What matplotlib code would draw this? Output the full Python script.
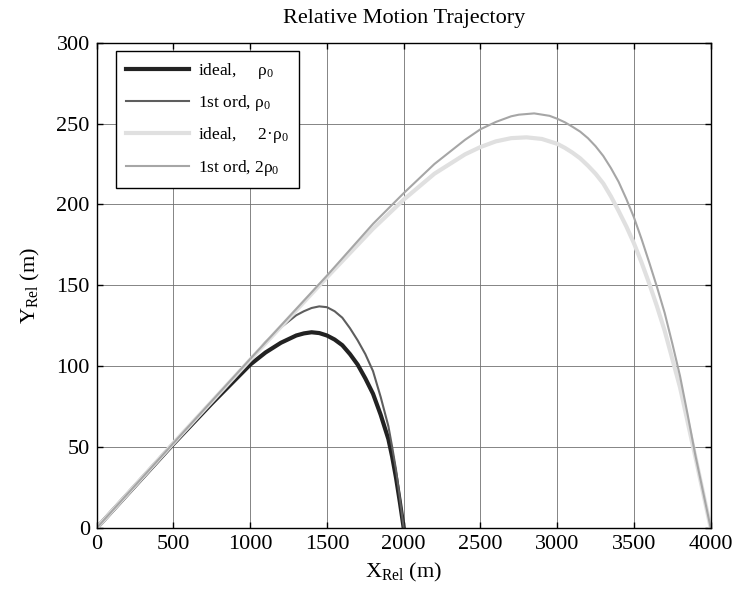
import matplotlib
matplotlib.use("Agg")
import matplotlib.pyplot as plt

plt.rcParams['font.family'] = ['Liberation Serif', 'DejaVu Serif']
plt.rcParams['mathtext.fontset'] = 'custom'
plt.rcParams['mathtext.rm'] = 'Liberation Serif'
plt.rcParams['mathtext.it'] = 'Liberation Serif:italic'

title = "Relative Motion Trajectory"
x_ticks = [0, 500, 1000, 1500, 2000, 2500, 3000, 3500, 4000]
y_ticks = [0, 50, 100, 150, 200, 250, 300]

labels = ['ideal,     ρ$_\\mathregular{0}$', '1st ord, ρ$_\\mathregular{0}$',
          'ideal,     2·ρ$_\\mathregular{0}$', '1st ord, 2ρ$_\\mathregular{0}$']

ideal_r0_x = [0, 250, 500, 750, 1000, 1100, 1200, 1300, 1350, 1400, 1450, 1500, 1550, 1600,
              1650, 1700, 1750, 1800, 1850, 1900, 1925, 1950, 1975, 2000]
ideal_r0_y = [0, 26, 52, 77, 101, 108.5, 114.5, 119, 120.3, 121, 120.5, 119, 116.5, 113,
              107.5, 101, 92.5, 83, 70, 55, 44, 31, 16, 0]

first_r0_x = [0, 250, 500, 750, 1000, 1100, 1200, 1300, 1350, 1400, 1450, 1500, 1550, 1600,
              1650, 1700, 1750, 1800, 1850, 1900, 1925, 1950, 1975, 2000]
first_r0_y = [0, 26, 52, 78, 103.5, 115, 124, 131.5, 134, 136, 137, 136.5, 134, 130,
              123.5, 116, 107.5, 97, 81, 63, 50, 36, 18.5, 0]

ideal_2r0_x = [0, 500, 1000, 1500, 1800, 2000, 2200, 2400, 2500, 2600, 2700, 2800, 2900, 3000,
               3050, 3100, 3150, 3200, 3250, 3300, 3350, 3400, 3450, 3500, 3550, 3600, 3650,
               3700, 3800, 3900, 4000]
ideal_2r0_y = [0, 52.5, 104, 155, 185, 203, 219, 231, 235.5, 239, 241, 241.5, 240.5, 237.5,
               235, 232, 228.5, 224, 219, 213, 205, 196, 186.5, 176, 164, 151, 137,
               122, 87, 44, 0]

first_2r0_x = [0, 500, 1000, 1500, 1800, 2000, 2200, 2400, 2500, 2600, 2700, 2750, 2850, 2950,
               3000, 3050, 3100, 3150, 3200, 3250, 3300, 3350, 3400, 3450, 3500, 3550, 3600,
               3650, 3700, 3750, 3800, 3850, 3900, 4000]
first_2r0_y = [0, 52.5, 104.5, 156, 188, 207, 225, 240, 246.5, 251, 254.5, 255.5, 256.3, 254.8,
               253, 250.8, 248, 245, 241, 236, 230, 222.5, 214, 203.5, 192, 178.5, 164,
               149, 133, 114, 94, 70, 45, 0]

fig = plt.figure(figsize=(7.41, 5.99), dpi=100)
ax = fig.add_axes([96.7/741, 1 - 528/599, 614/741, 485.3/599])

ax.plot(ideal_r0_x, ideal_r0_y, color='#222222', lw=3.0, label=labels[0])
ax.plot(first_r0_x, first_r0_y, color='#5e5e5e', lw=1.5, label=labels[1])
ax.plot(ideal_2r0_x, ideal_2r0_y, color='#e0e0e0', lw=3.0, label=labels[2])
ax.plot(first_2r0_x, first_2r0_y, color='#a6a6a6', lw=1.5, label=labels[3])

ax.set_xlim(0, 4000)
ax.set_ylim(0, 300)
ax.set_xticks(x_ticks)
ax.set_yticks(y_ticks)
ax.tick_params(direction='in', top=True, right=True, length=4, width=1,
               labelsize=16, pad=5)
ax.grid(True, color='#707070', lw=0.6)
ax.set_axisbelow(True)
for s in ax.spines.values():
    s.set_linewidth(1.0)
    s.set_color('black')

ax.set_title(title, fontsize=16, pad=14)
ax.set_xlabel(r'X$_\mathregular{Rel}$ (m)', fontsize=16, labelpad=5)
ax.set_ylabel(r'Y$_\mathregular{Rel}$ (m)', fontsize=16, labelpad=10)

leg = ax.legend(loc='upper left', bbox_to_anchor=(0.0314, 0.9835), borderaxespad=0,
                fontsize=12.5, fancybox=False, framealpha=1, edgecolor='black',
                handlelength=3.6, handletextpad=0.5, borderpad=0.6, labelspacing=0.7)
leg.get_frame().set_linewidth(1.0)

fig.savefig('out.png', dpi=100)
